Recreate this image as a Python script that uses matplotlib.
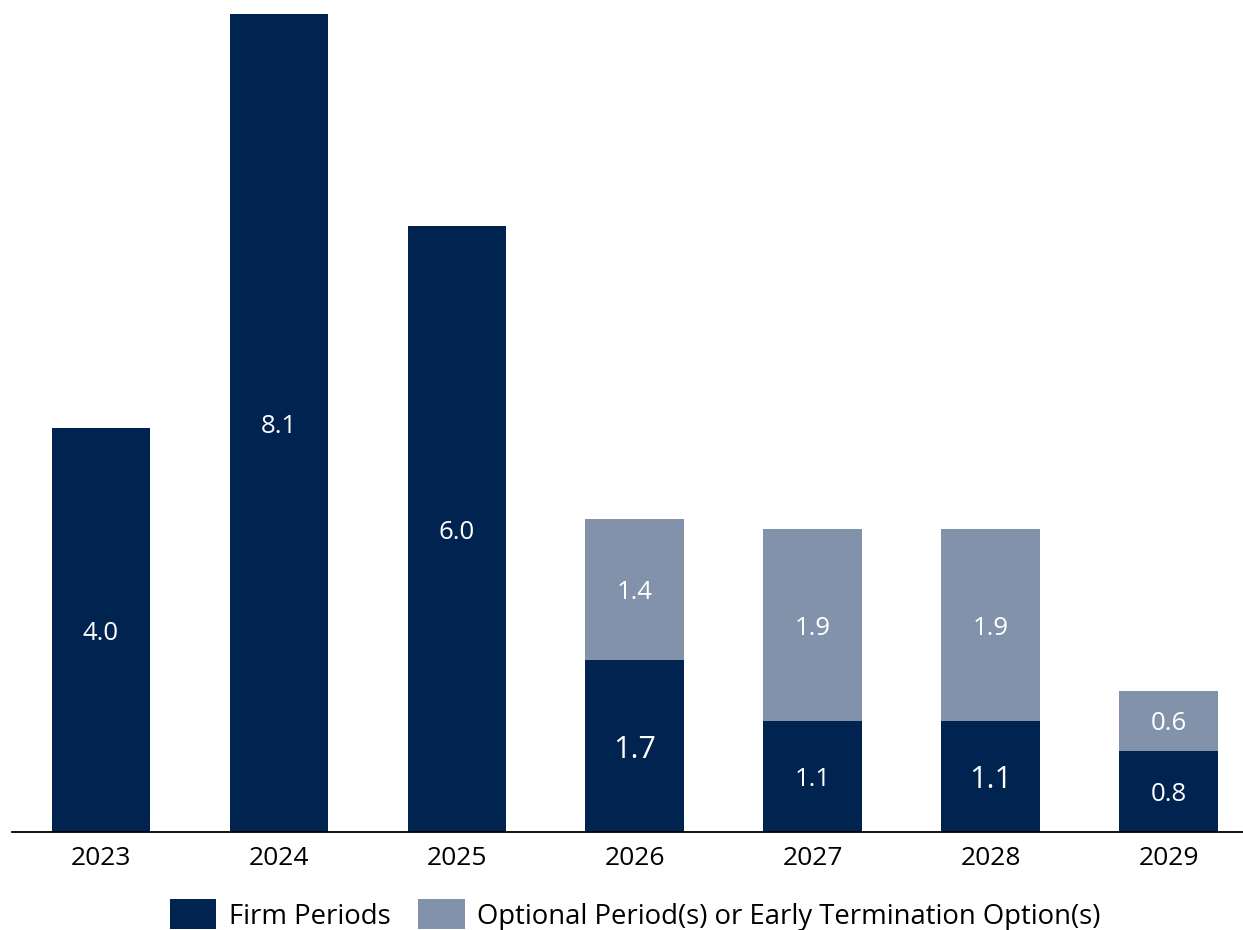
import matplotlib.pyplot as plt

years = ['2023', '2024', '2025', '2026', '2027', '2028', '2029']
firm = [4.0, 8.1, 6.0, 1.7, 1.1, 1.1, 0.8]
optional = [0, 0, 0, 1.4, 1.9, 1.9, 0.6]
# a couple of labels are drawn bigger in the original
big_firm = [False, False, False, True, False, True, False]

navy = '#002350'
grey = '#8392ab'

plt.rcParams['font.family'] = ['Open Sans', 'DejaVu Sans']

fig = plt.figure(figsize=(12.43, 9.3), dpi=100)
ax = fig.add_axes([12 / 1243, 98 / 930, 1231 / 1243, 832 / 930])

x = list(range(len(years)))
w = 0.556
ax.bar(x, firm, w, color=navy, label='Firm Periods')
ax.bar(x, optional, w, bottom=firm, color=grey,
       label='Optional Period(s) or Early Termination Option(s)')

for i in x:
    size = 22 if big_firm[i] else 18.5
    ax.text(i, firm[i] / 2, '{:.1f}'.format(firm[i]), ha='center',
            va='center_baseline', color='white', fontsize=size)
    if optional[i] > 0:
        ax.text(i, firm[i] + optional[i] / 2, '{:.1f}'.format(optional[i]),
                ha='center', va='center_baseline', color='white', fontsize=18.5)

ax.set_xlim(-0.5, 6.416)
ax.set_ylim(0, 8.24)
ax.set_xticks(x)
ax.set_xticklabels(years, fontsize=19)
ax.tick_params(axis='x', length=0, pad=10)
ax.set_yticks([])
for s in ['top', 'right', 'left']:
    ax.spines[s].set_visible(False)
ax.spines['bottom'].set_linewidth(1.3)
ax.spines['bottom'].set_color('black')

fig.legend(loc='center', bbox_to_anchor=(635 / 1243, 1 - 915 / 930), ncol=2,
           frameon=False, fontsize=19.8, handlelength=1.7, handleheight=1.3,
           handletextpad=0.45, columnspacing=1.0)

fig.savefig('out.png', dpi=100)
